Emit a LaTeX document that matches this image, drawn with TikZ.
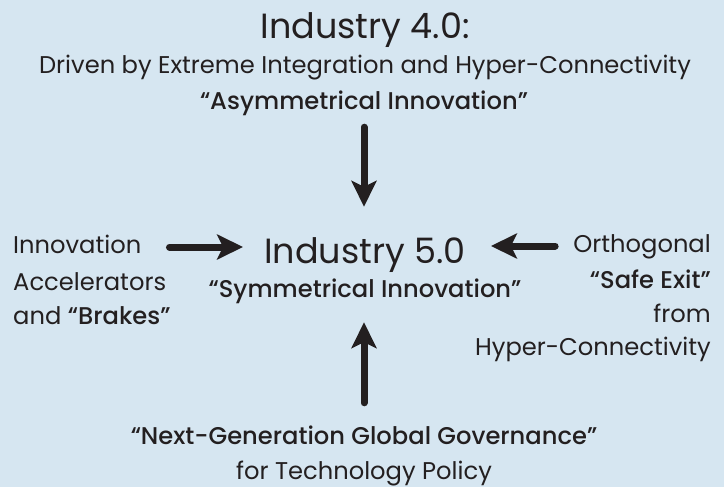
\documentclass[tikz,border=0pt]{standalone}
\usepackage{fontspec}
\setmainfont{Poppins}[BoldFont={Poppins Medium}]
\usepackage{xcolor}
\usetikzlibrary{arrows.meta}
\definecolor{bgblue}{HTML}{D6E6F1}
\definecolor{inkgray}{HTML}{231F20}
\begin{document}
\begin{tikzpicture}[x=1pt,y=-1pt,
    every node/.style={inner sep=0pt,text=inkgray,anchor=base},
    big/.style={font=\fontsize{35}{40}\selectfont,text height=26pt,text depth=8pt},
    txt/.style={font=\fontsize{24.2}{28}\selectfont,text height=18pt,text depth=6pt},
    bold/.style={font=\fontsize{24.2}{28}\selectfont\bfseries,text height=18pt,text depth=6pt},
    arr/.style={line width=7pt,color=inkgray,line cap=round,
        -{Stealth[length=26pt,width=25pt,inset=6pt]}}]
	\fill[bgblue] (0,0) rectangle (724,487);
	\useasboundingbox (0,0) rectangle (724,487);
	% top
	\node[big] (ind4) at (365,39) {Industry 4.0:};
	\node[txt] (drv) at (365,74) {Driven by Extreme Integration and Hyper-Connectivity};
	\node[bold] (asym) at (364,110) {``Asymmetrical Innovation''};
	% centre
	\node[big] (ind5) at (365,263) {Industry 5.0};
	\node[bold] (sym) at (365,297) {``Symmetrical Innovation''};
	% left
	\node[txt,anchor=base west] (innov) at (13,253) {Innovation};
	\node[txt,anchor=base west] (accel) at (13,290) {Accelerators};
	\node[txt,anchor=base west] (brakes) at (13,324) {and \textbf{``Brakes''}};
	% right
	\node[txt,anchor=base east] (orth) at (711,252) {Orthogonal};
	\node[bold,anchor=base east] (exit) at (711,288) {``Safe Exit''};
	\node[txt,anchor=base east] (from) at (711,322) {from};
	\node[txt,anchor=base east] (hyper) at (711,355) {Hyper-Connectivity};
	% bottom
	\node[bold] (gov) at (364,444) {``Next-Generation Global Governance''};
	\node[txt] (pol) at (364,479) {for Technology Policy};
	% arrows
	\draw[arr,shorten <=11pt,shorten >=30pt] (asym.south) -- (asym.south |- ind5.north);
	\draw[arr,shorten <=28pt,shorten >=21pt] (innov.east) -- (innov.east -| ind5.west);
	\draw[arr,shorten <=18pt,shorten >=25pt] (orth.west) -- (orth.west -| ind5.east);
	\draw[arr,shorten <=23pt,shorten >=19pt] (gov.north) -- (gov.north |- sym.south);
\end{tikzpicture}
\end{document}
